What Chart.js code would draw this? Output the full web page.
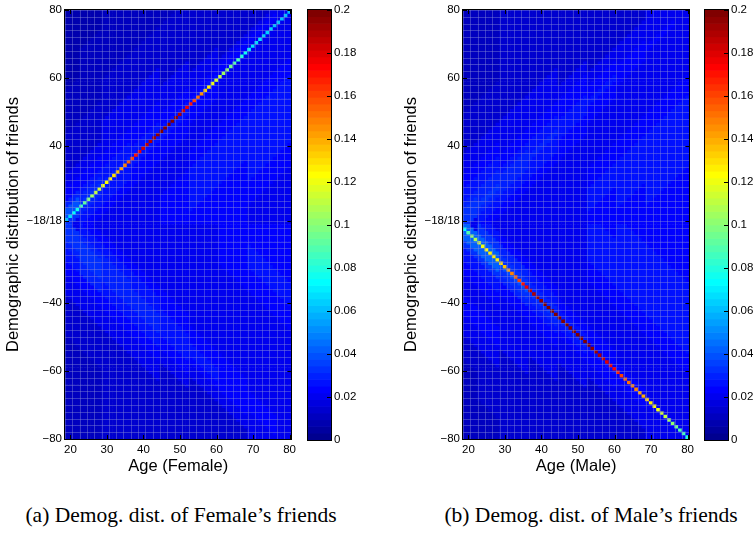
<!DOCTYPE html>
<html><head><meta charset="utf-8">
<script src="https://cdn.jsdelivr.net/npm/chart.js@4.4.1/dist/chart.umd.min.js"></script>
<style>
html,body{margin:0;padding:0;background:#fff}
body{width:754px;height:534px;position:relative;overflow:hidden}
canvas{position:absolute;top:0}
.cap{position:absolute;top:503px;font-family:"Liberation Serif","Times New Roman",serif;font-size:21.5px;color:#000;white-space:nowrap;transform:translateX(-50%)}
</style></head><body>
<canvas id="heatA" width="300" height="480" style="left:0"></canvas>
<canvas id="barA" width="60" height="480" style="left:300px"></canvas>
<canvas id="heatB" width="300" height="480" style="left:398px"></canvas>
<canvas id="barB" width="60" height="480" style="left:697px"></canvas>
<div class="cap" style="left:181px">(a) Demog. dist. of Female’s friends</div>
<div class="cap" style="left:591px">(b) Demog. dist. of Male’s friends</div>
<script>
// ---- data ----
const ages = [19,20,21,22,23,24,25,26,27,28,29,30,31,32,33,34,35,36,37,38,39,40,41,42,43,44,45,46,47,48,49,50,
  51,52,53,54,55,56,57,58,59,60,61,62,63,64,65,66,67,68,69,70,71,72,73,74,75,76,77,78,79,80];
const friendAges = [18,19,20,21,22,23,24,25,26,27,28,29,30,31,32,33,34,35,36,37,38,39,40,41,42,43,44,45,46,47,48,49,50,
  51,52,53,54,55,56,57,58,59,60,61,62,63,64,65,66,67,68,69,70,71,72,73,74,75,76,77,78,79,80];
// same-age cell value for each age (female: upper half, male: lower half)
const femaleDiag = [0.060,0.066,0.072,0.078,0.085,0.092,0.098,0.104,0.110,0.115,0.120,0.124,0.127,0.131,0.136,0.142,
  0.150,0.156,0.162,0.170,0.176,0.182,0.186,0.190,0.193,0.196,0.198,0.200,0.200,0.198,0.194,0.190,
  0.184,0.178,0.170,0.162,0.152,0.144,0.134,0.126,0.120,0.115,0.110,0.105,0.100,0.096,0.090,0.085,
  0.080,0.076,0.072,0.068,0.067,0.066,0.065,0.064,0.063,0.062,0.062,0.061,0.060,0.060];
const maleDiag = [0.075,0.088,0.100,0.108,0.114,0.120,0.124,0.126,0.127,0.128,0.130,0.135,0.142,0.148,0.154,0.162,
  0.170,0.178,0.185,0.190,0.192,0.195,0.197,0.199,0.200,0.200,0.200,0.200,0.200,0.200,0.200,0.200,
  0.200,0.200,0.198,0.196,0.193,0.190,0.186,0.180,0.176,0.172,0.166,0.160,0.155,0.152,0.150,0.147,
  0.142,0.138,0.132,0.127,0.124,0.120,0.115,0.110,0.105,0.100,0.095,0.090,0.085,0.080];
// background levels (code x 0.0038) by age bin (rows) and friend-age offset bin (chars)
const ageBins = [19,25,32,40,48,56,64,72,80];
const offsetBins = [-60,-50,-42,-35,-28,-22,-16,-11,-7,-4,-2,0,2,4,7,11,16,22,28,35,42,50,60];
const femaleUpper = ["55555555559aa8654433222","55555555678987654433322","55555555677877655443333",
  "55555555667776655443333","66666655667766554443333","66667765566765544444444",
  "66667765555665444444444","55677765555565444444444","55677765555555555555555"];
const femaleLower = ["55555555559998765443333","55555555678999865443333","55555555678888765444444",
  "55555555677888765444444","55555555667777654444444","55555555566776544444444",
  "66665555566666544444444","66765555556665555555555","66765555555555555555555"];
const maleUpper = ["55555555559998765443333","55555555678988765443333","55555555678887655444444",
  "55555555677877655444444","55555555667776654444444","66667655566766544444444",
  "66677655556665544444444","66777655555655555555555","66777655555555555555555"];
const maleLower = ["5555555555bbb9765654333","5555555579bbb9765654433","55555555689a98655544444",
  "55555555678987655444444","55555555567876554444444","66677655566766544444444",
  "66777655556665544444444","66777655555655555555555","66777655555555555555555"];
const xTickValues = [20,30,40,50,60,70,80];
const yTickAges = [80,60,40,18,-40,-60,-80];
const yTickLabels = ['80','60','40','\u221218/18','\u221240','\u221260','\u221280'];
const cbTickValues = [0,0.02,0.04,0.06,0.08,0.1,0.12,0.14,0.16,0.18,0.2];
const cbTickLabels = ['0','0.02','0.04','0.06','0.08','0.1','0.12','0.14','0.16','0.18','0.2'];
const cMin = 0, cMax = 0.2;
const levelStep = 0.0038;

// ---- helpers ----
function jetIndex(v){ let i = Math.floor((v-cMin)/(cMax-cMin)*64)+1; return Math.max(1,Math.min(64,i)); }
function jetFromIndex(i){
  const b = i<=8 ? (i+8)/16 : i<=24 ? 1 : i<=39 ? (40-i)/16 : 0;
  const g = i<=8 ? 0 : i<=24 ? (i-8)/16 : i<=39 ? 1 : i<=55 ? (56-i)/16 : 0;
  const r = i<=24 ? 0 : i<=40 ? (i-24)/16 : i<=55 ? 1 : (72-i)/16;
  return `rgb(${Math.round(r*255)},${Math.round(g*255)},${Math.round(b*255)})`;
}
function jet(v){ return jetFromIndex(jetIndex(v)); }
function nearest(arr, v){ let bi=0; for(let i=1;i<arr.length;i++) if(Math.abs(arr[i]-v)<Math.abs(arr[bi]-v)) bi=i; return bi; }
function lookup(tab, age, d){ return parseInt(tab[nearest(ageBins,age)][nearest(offsetBins,d)],36)*levelStep; }
function rowPos(v){ return v>0 ? v-17 : v+17; }   // folded axis: 18 -> 1, -18 -> -1

function buildCells(diag, diagUpper, upTab, lowTab){
  const data=[], colors=[];
  const rows = friendAges.map(f=>f).concat(friendAges.map(f=>-f));
  rows.forEach(v=>{
    const upper = v>0, fa = Math.abs(v);
    const c = upper ? v-17.5 : v+17.5;
    ages.forEach((a,j)=>{
      const val = (upper===diagUpper && fa===a) ? diag[j] : lookup(upper?upTab:lowTab, a, fa-a);
      data.push({x:a, y:[c-0.5, c+0.5]});
      colors.push(jet(val));
    });
  });
  return {data, colors};
}

Chart.defaults.font.family = "'Liberation Sans', Arial, Helvetica, sans-serif";
Chart.defaults.color = '#000';

const heatOverlay = {
  id:'heatOverlay',
  afterDatasetsDraw(chart){
    const {ctx, chartArea:{left,right,top,bottom}, scales:{x,y}} = chart;
    ctx.save();
    ctx.beginPath(); ctx.rect(left,top,right-left,bottom-top); ctx.clip();
    ctx.strokeStyle='rgba(135,140,215,0.42)'; ctx.lineWidth=1;
    ctx.beginPath();
    for(let xv=x.min; xv<=x.max+0.01; xv+=2){ const px=Math.round(x.getPixelForValue(xv))+0.5; ctx.moveTo(px,top); ctx.lineTo(px,bottom); }
    for(let yv=y.min; yv<=y.max+0.01; yv+=2){ const py=Math.round(y.getPixelForValue(yv))+0.5; ctx.moveTo(left,py); ctx.lineTo(right,py); }
    ctx.stroke();
    ctx.restore();
    ctx.save();
    ctx.strokeStyle='#000'; ctx.lineWidth=1; ctx.beginPath();
    x.ticks.forEach(t=>{ const px=Math.round(x.getPixelForValue(t.value))+0.5; ctx.moveTo(px,bottom); ctx.lineTo(px,bottom-4); ctx.moveTo(px,top); ctx.lineTo(px,top+4); });
    y.ticks.forEach(t=>{ const py=Math.round(y.getPixelForValue(t.value))+0.5; ctx.moveTo(left,py); ctx.lineTo(left+4,py); ctx.moveTo(right,py); ctx.lineTo(right-4,py); });
    ctx.stroke();
    ctx.strokeRect(Math.round(left)-0.5, Math.round(top)-0.5, Math.round(right)-Math.round(left)+1, Math.round(bottom)-Math.round(top)+1);
    ctx.restore();
  }
};
const cbOverlay = {
  id:'cbOverlay',
  afterDatasetsDraw(chart){
    const {ctx, chartArea:{left,right,top,bottom}, scales:{y}} = chart;
    ctx.save(); ctx.strokeStyle='#000'; ctx.lineWidth=1; ctx.beginPath();
    y.ticks.forEach(t=>{ const py=Math.round(y.getPixelForValue(t.value))+0.5; ctx.moveTo(right,py); ctx.lineTo(right-4,py); });
    ctx.stroke();
    ctx.strokeRect(Math.round(left)-0.5, Math.round(top)-0.5, Math.round(right)-Math.round(left)+1, Math.round(bottom)-Math.round(top)+1);
    ctx.restore();
  }
};

function makeHeat(id, xTitle, diag, diagUpper, upTab, lowTab){
  const cells = buildCells(diag, diagUpper, upTab, lowTab);
  return new Chart(document.getElementById(id), {
    type:'bar',
    data:{ datasets:[{ data:cells.data, backgroundColor:cells.colors, borderWidth:0,
      barPercentage:1, categoryPercentage:1 }]},
    options:{
      responsive:false, animation:false, events:[],
      layout:{padding:{top:10,right:8,left:0,bottom:0}},
      plugins:{legend:{display:false}, tooltip:{enabled:false}},
      scales:{
        x:{ type:'linear', min:18.5, max:80.5, offset:false,
          grid:{display:false, drawTicks:false}, border:{display:false},
          afterBuildTicks:s=>{ s.ticks = xTickValues.map(v=>({value:v})); },
          afterFit:s=>{ s.height = 41; },
          ticks:{ autoSkip:false, maxRotation:0, padding:4, font:{size:11.5}, callback:(v,i)=>String(xTickValues[i]) },
          title:{ display:true, text:xTitle, font:{size:16.5}, padding:{top:0,bottom:4} } },
        y:{ type:'linear', min:-63, max:63,
          grid:{display:false, drawTicks:false}, border:{display:false},
          afterBuildTicks:s=>{ s.ticks = yTickAges.map(v=>({value:rowPos(v)})); },
          afterFit:s=>{ s.width = 65; },
          ticks:{ autoSkip:false, padding:3, font:{size:11.5}, callback:(v,i)=>yTickLabels[i] },
          title:{ display:true, text:'Demographic distribution of friends', font:{size:16.5}, padding:{top:4,bottom:0} } }
      }
    },
    plugins:[heatOverlay]
  });
}

function makeColorbar(id){
  const data=[], colors=[];
  for(let k=0;k<64;k++){ const lo=cMin+k*(cMax-cMin)/64, hi=cMin+(k+1)*(cMax-cMin)/64; data.push({x:'cb', y:[lo,hi]}); colors.push(jetFromIndex(k+1)); }
  return new Chart(document.getElementById(id), {
    type:'bar',
    data:{ labels:['cb'], datasets:[{ data, backgroundColor:colors, borderWidth:0, barPercentage:1, categoryPercentage:1 }]},
    options:{
      responsive:false, animation:false, events:[],
      layout:{padding:{top:10,left:8,right:0,bottom:40}},
      plugins:{legend:{display:false}, tooltip:{enabled:false}},
      scales:{
        x:{ display:false },
        y:{ position:'right', min:cMin, max:cMax,
          grid:{display:false, drawTicks:false}, border:{display:false},
          afterBuildTicks:s=>{ s.ticks = cbTickValues.map(v=>({value:v})); },
          afterFit:s=>{ s.width = 29; },
          ticks:{ autoSkip:false, padding:3, font:{size:11.5}, callback:(v,i)=>cbTickLabels[i] } }
      }
    },
    plugins:[cbOverlay]
  });
}

makeHeat('heatA','Age (Female)', femaleDiag, true, femaleUpper, femaleLower);
makeColorbar('barA');
makeHeat('heatB','Age (Male)', maleDiag, false, maleUpper, maleLower);
makeColorbar('barB');
</script>
</body></html>
